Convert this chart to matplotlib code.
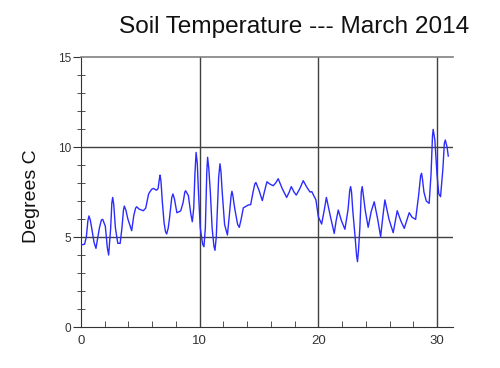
import matplotlib
matplotlib.use("Agg")
import matplotlib.pyplot as plt
from matplotlib.ticker import MultipleLocator

plt.rcParams['font.family'] = ['Liberation Sans', 'DejaVu Sans']

title = "Soil Temperature --- March 2014"
ylabel = "Degrees C"

days = [0.0, 0.3, 0.45, 0.58, 0.67, 0.78, 0.9, 1.1, 1.26, 1.4, 1.55, 1.72, 1.83, 2.05, 2.22, 2.33,
        2.5, 2.6, 2.67, 2.76, 2.9, 3.1, 3.3, 3.45, 3.58, 3.65, 3.78, 3.95, 4.27, 4.45, 4.6, 4.69,
        4.9, 5.25, 5.45, 5.7, 5.95, 6.1, 6.37, 6.5, 6.6, 6.66, 6.74, 6.85, 7.0, 7.12, 7.22,
        7.35, 7.45, 7.65, 7.75, 7.88, 8.08, 8.4, 8.6, 8.75, 8.82, 9.05, 9.25, 9.38, 9.5, 9.6,
        9.7, 9.8, 9.9, 10.05, 10.25, 10.36, 10.48, 10.6, 10.67, 10.77, 10.9, 11.05, 11.2, 11.29,
        11.4, 11.6, 11.71, 11.8, 11.9, 12.1, 12.34, 12.5, 12.65, 12.72, 12.8, 12.95, 13.2,
        13.34, 13.5, 13.68, 14.1, 14.3, 14.5, 14.65, 14.74, 14.85, 15.0, 15.28, 15.45, 15.67,
        15.9, 16.2, 16.4, 16.62, 16.95, 17.33, 17.55, 17.72, 17.95, 18.14, 18.45, 18.73, 19.0,
        19.3, 19.45, 19.8, 20.0, 20.28, 20.5, 20.68, 21.0, 21.34, 21.5, 21.68, 21.95, 22.24,
        22.5, 22.65, 22.72, 22.8, 22.9, 23.1, 23.22, 23.3, 23.38, 23.5, 23.62, 23.7, 23.78,
        23.95, 24.2, 24.45, 24.71, 25.0, 25.25, 25.45, 25.61, 25.95, 26.31, 26.65, 26.95,
        27.24, 27.66, 27.9, 28.2, 28.45, 28.62, 28.7, 28.78, 28.9, 29.1, 29.34, 29.5, 29.62,
        29.68, 29.82, 30.0, 30.15, 30.3, 30.5, 30.62, 30.7, 30.85, 30.95]
temps = [4.56, 4.6, 5.0, 5.9, 6.17, 5.95, 5.5, 4.7, 4.37, 4.9, 5.5, 5.95, 5.98, 5.6, 4.4, 4.0,
         5.5, 6.9, 7.2, 6.8, 5.5, 4.65, 4.65, 5.5, 6.5, 6.72, 6.5, 6.0, 5.35, 6.2, 6.6, 6.68,
         6.55, 6.46, 6.6, 7.4, 7.65, 7.7, 7.6, 7.7, 8.2, 8.44, 8.1, 7.0, 5.8, 5.3, 5.17,
         5.5, 6.0, 7.2, 7.39, 7.1, 6.35, 6.45, 6.9, 7.5, 7.57, 7.3, 6.3, 5.85, 6.6, 8.5,
         9.7, 9.1, 7.5, 5.5, 4.6, 4.46, 5.5, 8.6, 9.43, 8.8, 7.5, 5.5, 4.5, 4.26,
         5.0, 8.3, 9.07, 8.6, 7.5, 5.7, 5.11, 6.2, 7.3, 7.54, 7.3, 6.6, 5.7,
         5.54, 6.0, 6.62, 6.78, 6.8, 7.5, 7.95, 8.03, 7.85, 7.6, 7.02, 7.5, 8.07,
         7.95, 7.85, 8.0, 8.24, 7.7, 7.2, 7.5, 7.8, 7.5, 7.33, 7.7, 8.13, 7.8,
         7.5, 7.52, 7.06, 6.13, 5.72, 6.5, 7.2, 6.2, 5.2, 5.9, 6.5, 5.9, 5.43,
         6.5, 7.6, 7.8, 7.5, 6.5, 5.0, 4.0, 3.63, 4.2, 5.5, 7.5, 7.8, 7.4,
         6.5, 5.54, 6.4, 6.96, 6.0, 5.02, 6.2, 7.06, 6.0, 5.24, 6.46, 5.9,
         5.48, 6.35, 6.1, 5.98, 7.3, 8.4, 8.54, 8.2, 7.5, 7.0, 6.87, 8.5, 10.6,
         10.98, 10.39, 8.5, 7.4, 7.24, 8.8, 10.2, 10.39, 10.0, 9.5]

xticks = [0, 10, 20, 30]
yticks = [0, 5, 10, 15]

fig = plt.figure(figsize=(5.0, 3.68), dpi=100)
ax = fig.add_axes([0.162, 0.1114, 0.744, 0.7336])

ax.set_xlim(0, 31.35)
ax.set_ylim(0, 15)

for x in xticks[1:]:
    ax.axvline(x, color='#404040', lw=1.0, zorder=1)
for y in yticks[1:3]:
    ax.axhline(y, color='#404040', lw=1.0, zorder=1)

ax.plot(days, temps, color='#2b2bff', lw=1.0, zorder=3, solid_joinstyle='round')

ax.spines['right'].set_visible(False)
ax.spines['top'].set_color('#808080')
ax.spines['top'].set_linewidth(1.2)
ax.spines['left'].set_color('#333333')
ax.spines['bottom'].set_color('#333333')

ax.set_xticks(xticks)
ax.set_yticks(yticks)
ax.xaxis.set_minor_locator(MultipleLocator(2))
ax.yaxis.set_minor_locator(MultipleLocator(1))

ax.tick_params(axis='x', which='major', direction='in', length=0, pad=6,
               labelsize=9.5, labelcolor='#333333')
ax.tick_params(axis='x', which='minor', direction='in', length=4, color='#333333')
ax.tick_params(axis='y', which='major', direction='out', length=6, pad=1,
               labelsize=8.5, labelcolor='#333333', color='#333333')
ax.tick_params(axis='y', which='minor', direction='inout', length=6, color='#333333')

fig.text(0.588, 0.910, title, ha='center', va='baseline', fontsize=17.6, color='#111111')
fig.text(0.062, 0.468, ylabel, ha='center', va='center', rotation=90, fontsize=14,
         color='#111111')

fig.savefig('out.png', dpi=100)
